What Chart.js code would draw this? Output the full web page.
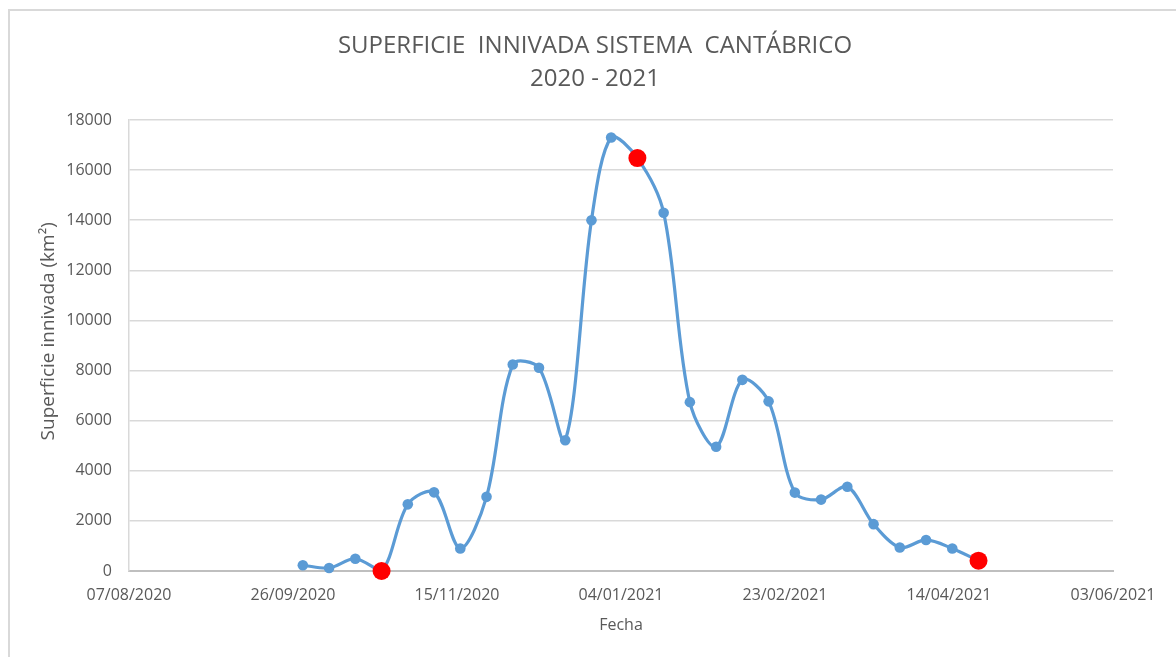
<!DOCTYPE html>
<html>
<head>
<meta charset="utf-8">
<script src="https://cdn.jsdelivr.net/npm/chart.js@4.4.1/dist/chart.umd.min.js"></script>
<style>
  html, body { margin: 0; padding: 0; background: #ffffff; overflow: hidden; width: 1176px; height: 657px; }
  #frame { position: absolute; left: 8px; top: 9px; width: 1300px; height: 800px; border: 2px solid #d9d9d9; box-sizing: border-box; }
  #c { position: absolute; left: 14px; top: 0; }
</style>
</head>
<body>
<div id="frame"></div>
<canvas id="c" width="1162" height="657"></canvas>
<script>
// ---- Data ----
const dates = [
  '2020-09-29','2020-10-07','2020-10-15','2020-10-23','2020-10-31','2020-11-08','2020-11-16',
  '2020-11-24','2020-12-02','2020-12-10','2020-12-18','2020-12-26','2021-01-01','2021-01-09',
  '2021-01-17','2021-01-25','2021-02-02','2021-02-10','2021-02-18','2021-02-26','2021-03-06',
  '2021-03-14','2021-03-22','2021-03-30','2021-04-07','2021-04-15','2021-04-23'
];
const snowArea = [
  230, 120, 490, 0, 2660, 3140, 900,
  2960, 8240, 8110, 5220, 14000, 17300, 16480,
  14300, 6740, 4960, 7630, 6770, 3130, 2850,
  3360, 1870, 940, 1240, 900, 410
];
const highlightedDates = ['2020-10-23', '2021-01-09', '2021-04-23'];
const xTickLabels = ['07/08/2020','26/09/2020','15/11/2020','04/01/2021','23/02/2021','14/04/2021','03/06/2021'];
const yTickValues = [0, 2000, 4000, 6000, 8000, 10000, 12000, 14000, 16000, 18000];
const axisStart = '2020-08-07';
const axisEnd = '2021-06-03';
const tickStepDays = 50;

// ---- Build library structures ----
function dayOffset(iso) {
  const [y, m, d] = iso.split('-').map(Number);
  const [y0, m0, d0] = axisStart.split('-').map(Number);
  return Math.round((Date.UTC(y, m - 1, d) - Date.UTC(y0, m0 - 1, d0)) / 86400000);
}
const points = dates.map((d, i) => ({ x: dayOffset(d), y: snowArea[i] }));
const isHighlighted = dates.map(d => highlightedDates.includes(d));

const BLUE = '#5b9bd5';
const RED = '#ff0000';
const TXT = '#595959';
const FONT = "'Open Sans', 'Noto Sans', sans-serif";

new Chart(document.getElementById('c'), {
  type: 'line',
  data: {
    datasets: [{
      data: points,
      borderColor: BLUE,
      borderWidth: 3.2,
      tension: 0.32,
      clip: false,
      pointRadius: isHighlighted.map(h => h ? 9 : 5.3),
      pointBackgroundColor: isHighlighted.map(h => h ? RED : BLUE),
      pointBorderColor: isHighlighted.map(h => h ? RED : BLUE),
      pointBorderWidth: 0,
      pointHoverRadius: isHighlighted.map(h => h ? 9 : 5.3)
    }]
  },
  options: {
    responsive: false,
    animation: false,
    devicePixelRatio: 1,
    layout: { padding: 0 },
    plugins: {
      legend: { display: false },
      tooltip: { enabled: false },
      title: {
        display: true,
        text: ['SUPERFICIE  INNIVADA SISTEMA  CANTÁBRICO', '2020 - 2021'],
        color: TXT,
        font: { family: FONT, size: 24, weight: 'normal', lineHeight: 1.375 },
        padding: { top: 30, bottom: 24 }
      }
    },
    scales: {
      x: {
        type: 'linear',
        min: 0,
        max: dayOffset(axisEnd),
        grid: { display: false, drawTicks: false },
        border: { display: true, color: '#bfbfbf', width: 2 },
        ticks: {
          stepSize: tickStepDays,
          padding: 15,
          color: TXT,
          font: { family: FONT, size: 16 },
          maxRotation: 0,
          autoSkip: false,
          callback: (v) => xTickLabels[Math.round(v / tickStepDays)]
        },
        title: {
          display: true,
          text: 'Fecha',
          color: TXT,
          font: { family: FONT, size: 16 },
          padding: { top: 0, bottom: 22 }
        },
        afterFit: s => { s.height = 86; }
      },
      y: {
        type: 'linear',
        position: 'left',
        min: yTickValues[0],
        max: yTickValues[yTickValues.length - 1],
        grid: { color: '#d9d9d9', lineWidth: 1.5, drawTicks: false },
        border: { display: true, color: '#d9d9d9', width: 1.5 },
        ticks: {
          stepSize: yTickValues[1] - yTickValues[0],
          padding: 17,
          color: TXT,
          font: { family: FONT, size: 16 },
          callback: (v) => String(v)
        },
        title: {
          display: true,
          text: '\u2003\u2002Superficie innivada (km²)',
          color: TXT,
          font: { family: FONT, size: 19 },
          padding: { top: 23, bottom: 0 }
        },
        afterFit: s => { s.width = 115; }
      },
      yRight: {
        type: 'linear',
        position: 'right',
        display: true,
        grid: { display: false, drawTicks: false },
        border: { display: false },
        ticks: { display: false },
        afterFit: s => { s.width = 63; }
      }
    }
  }
});
</script>
</body>
</html>
